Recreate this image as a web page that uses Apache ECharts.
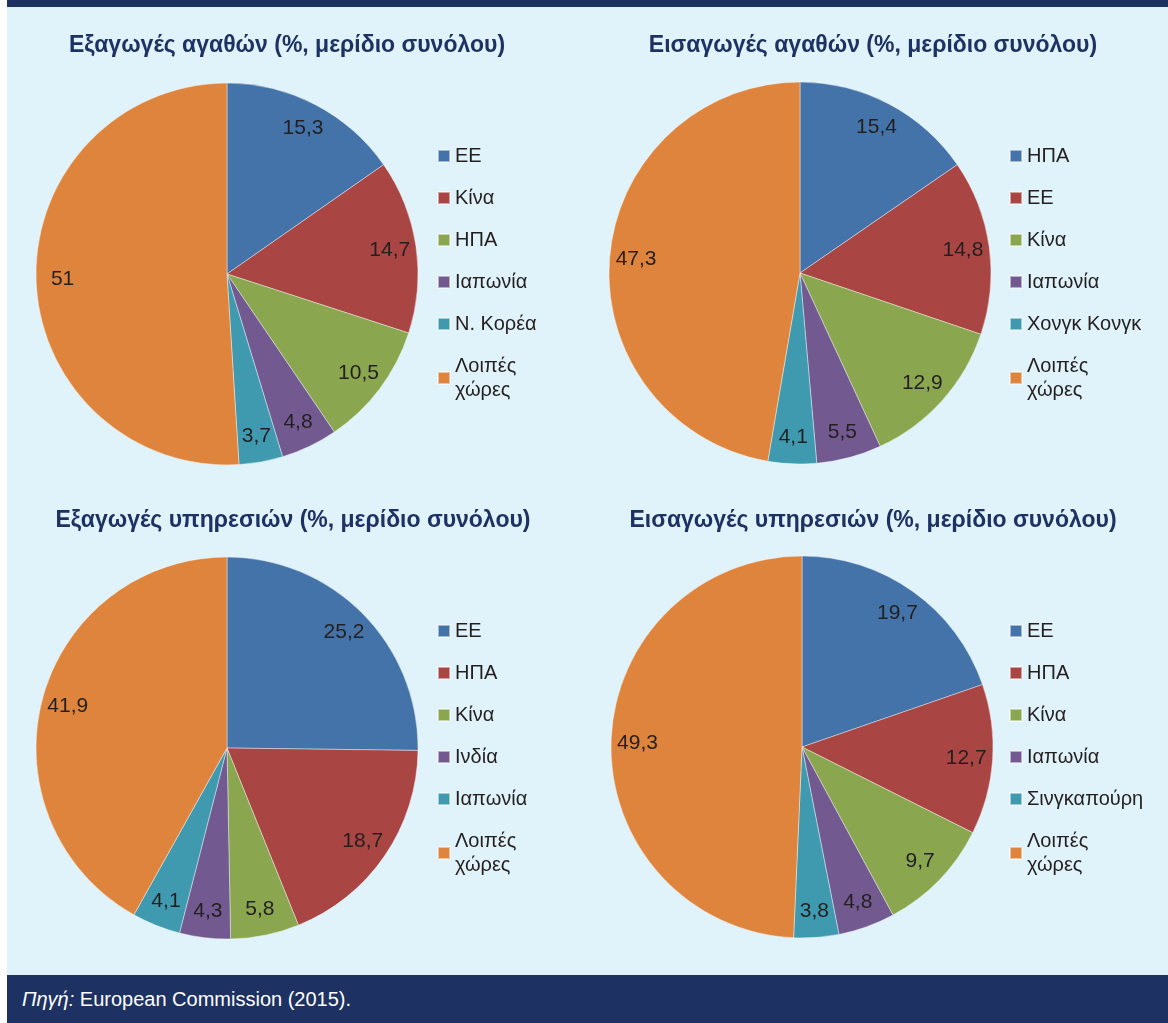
<!DOCTYPE html>
<html>
<head>
<meta charset="utf-8">
<script src="https://cdn.jsdelivr.net/npm/echarts@6/dist/echarts.min.js"></script>
<style>
  body { margin: 0; background: #fff; font-family: "Liberation Sans", Arial, sans-serif; }
  #page { position: relative; width: 1168px; height: 1023px; overflow: hidden; }
  #panel { position: absolute; left: 7px; top: 0; width: 1161px; height: 1023px; background: #e0f3fa; }
  #topbar { position: absolute; left: 0; top: 0; width: 100%; height: 7px; background: #1e3163; }
  #footer { position: absolute; left: 0; top: 975px; width: 100%; height: 48px; background: #1e3163;
            color: #fff; font-size: 20px; line-height: 48px; padding-left: 15px; box-sizing: border-box; }
  .chart { position: absolute; width: 584px; height: 480px; }
</style>
</head>
<body>
<div id="page">
  <div id="panel">
    <div id="topbar"></div>
    <div id="footer"><i>Πηγή:</i> European Commission (2015).</div>
  </div>
  <div class="chart" id="c1" style="left:0;top:0"></div>
  <div class="chart" id="c2" style="left:584px;top:0"></div>
  <div class="chart" id="c3" style="left:0;top:475px"></div>
  <div class="chart" id="c4" style="left:584px;top:475px"></div>
</div>
<script>
// Εξαγωγές αγαθών
var goodsExpNames = ['ΕΕ', 'Κίνα', 'ΗΠΑ', 'Ιαπωνία', 'Ν. Κορέα', 'Λοιπές χώρες'];
var goodsExpValues = [15.3, 14.7, 10.5, 4.8, 3.7, 51];
// Εισαγωγές αγαθών
var goodsImpNames = ['ΗΠΑ', 'ΕΕ', 'Κίνα', 'Ιαπωνία', 'Χονγκ Κονγκ', 'Λοιπές χώρες'];
var goodsImpValues = [15.4, 14.8, 12.9, 5.5, 4.1, 47.3];
// Εξαγωγές υπηρεσιών
var servExpNames = ['ΕΕ', 'ΗΠΑ', 'Κίνα', 'Ινδία', 'Ιαπωνία', 'Λοιπές χώρες'];
var servExpValues = [25.2, 18.7, 5.8, 4.3, 4.1, 41.9];
// Εισαγωγές υπηρεσιών
var servImpNames = ['ΕΕ', 'ΗΠΑ', 'Κίνα', 'Ιαπωνία', 'Σινγκαπούρη', 'Λοιπές χώρες'];
var servImpValues = [19.7, 12.7, 9.7, 4.8, 3.8, 49.3];

var colors = ['#4373a9', '#a94543', '#8aa64f', '#725a91', '#3f9ab0', '#df843c'];
var FONT = '"Liberation Sans", Arial, sans-serif';

function makePie(id, title, names, values, center, titleLeft, legendLeft) {
    var chart = echarts.init(document.getElementById(id));
    var data = names.map(function (n, i) { return { name: n, value: values[i] }; });
    var R = 191;
    chart.setOption({
        color: colors,
        animation: false,
        title: {
            text: title,
            left: titleLeft,
            textAlign: 'center',
            top: 29,
            textStyle: { color: '#1e3163', fontSize: 23, fontWeight: 'bold', fontFamily: FONT }
        },
        legend: {
            orient: 'vertical',
            left: legendLeft,
            top: 139,
            itemWidth: 12,
            itemHeight: 12,
            itemGap: 18,
            icon: 'rect',
            data: names,
            formatter: function (n) { return n === 'Λοιπές χώρες' ? 'Λοιπές\nχώρες' : n; },
            textStyle: { fontSize: 20, color: '#231f20', fontFamily: FONT, lineHeight: 24 }
        },
        series: [
            {
                type: 'pie',
                center: center,
                radius: [0, R],
                startAngle: 90,
                clockwise: true,
                data: data,
                label: { show: false },
                labelLine: { show: false },
                itemStyle: { borderColor: 'rgba(255,255,255,0.5)', borderWidth: 0.8 },
                emphasis: { disabled: true }
            },
            {
                // label ring, slightly outside the middle of the radius
                type: 'pie',
                center: center,
                radius: [132, R],
                startAngle: 90,
                clockwise: true,
                silent: true,
                data: data,
                itemStyle: { color: 'rgba(0,0,0,0)' },
                label: {
                    show: true,
                    position: 'inside',
                    fontSize: 21,
                    color: '#231f20',
                    fontFamily: FONT,
                    formatter: function (p) { return String(p.value).replace('.', ','); }
                },
                labelLine: { show: false },
                emphasis: { disabled: true }
            }
        ]
    });
}

makePie('c1', 'Εξαγωγές αγαθών (%, μερίδιο συνόλου)', goodsExpNames, goodsExpValues, [227, 274], 282, 432);
makePie('c2', 'Εισαγωγές αγαθών (%, μερίδιο συνόλου)', goodsImpNames, goodsImpValues, [216, 273], 284, 420);
makePie('c3', 'Εξαγωγές υπηρεσιών (%, μερίδιο συνόλου)', servExpNames, servExpValues, [227, 273], 288, 432);
makePie('c4', 'Εισαγωγές υπηρεσιών (%, μερίδιο συνόλου)', servImpNames, servImpValues, [218, 272], 284, 420);
</script>
</body>
</html>
